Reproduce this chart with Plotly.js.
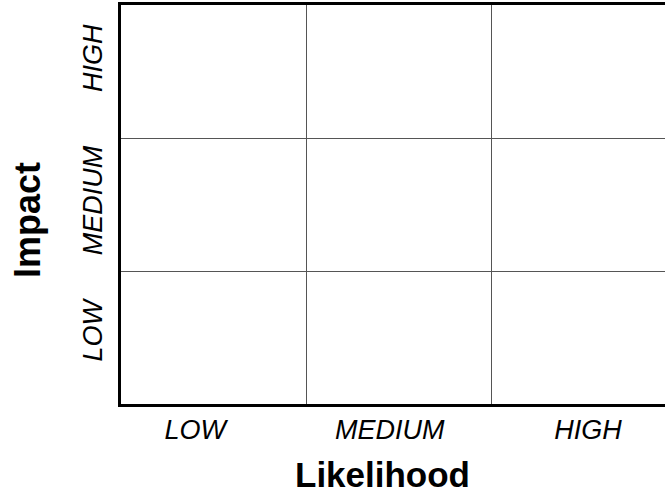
<!DOCTYPE html>
<html>
<head>
<meta charset="utf-8">
<script src="https://cdn.plot.ly/plotly-3.0.1.min.js"></script>
<style>
html,body{margin:0;padding:0;overflow:hidden;background:#fff;}
#chart{width:680px;height:495px;}
</style>
</head>
<body>
<div id="chart"></div>
<script>
// Category labels
const likelihoodLabels = ["LOW", "MEDIUM", "HIGH"];
const impactLabels = ["LOW", "MEDIUM", "HIGH"];
// Label positions along each axis (cell units)
const likelihoodTickPos = [0.40, 1.45, 2.52];
const impactTickPos = [0.52, 1.50, 2.57];
// Cell boundaries of the 3x3 matrix
const cellEdges = [0, 1, 2, 3];
const innerEdges = [1, 2];

const font = "Liberation Sans, Arial, sans-serif";

const trace = {
  type: "scatter",
  mode: "markers",
  x: [cellEdges[0], cellEdges[cellEdges.length - 1]],
  y: [cellEdges[0], cellEdges[cellEdges.length - 1]],
  marker: {opacity: 0},
  hoverinfo: "skip",
  showlegend: false
};

const layout = {
  width: 680,
  height: 495,
  margin: {l: 121, r: 3, t: 5, b: 91},
  paper_bgcolor: "#fff",
  plot_bgcolor: "#fff",
  showlegend: false,
  xaxis: {
    range: [cellEdges[0], cellEdges[cellEdges.length - 1]],
    tickmode: "array",
    tickvals: likelihoodTickPos,
    ticktext: likelihoodLabels,
    ticks: "",
    showgrid: false,
    zeroline: false,
    showline: true,
    mirror: true,
    linecolor: "#000",
    linewidth: 3,
    tickfont: {family: font, size: 27, color: "#000", style: "italic"},
    minor: {tickmode: "array", tickvals: innerEdges, showgrid: true, gridcolor: "#555", gridwidth: 1, ticks: ""},
    fixedrange: true
  },
  yaxis: {
    range: [cellEdges[0], cellEdges[cellEdges.length - 1]],
    tickmode: "array",
    tickvals: impactTickPos,
    ticktext: impactLabels,
    tickangle: -90,
    ticks: "",
    ticklabelstandoff: 5,
    showgrid: false,
    zeroline: false,
    showline: true,
    mirror: true,
    linecolor: "#000",
    linewidth: 3,
    tickfont: {family: font, size: 27, color: "#000", style: "italic"},
    minor: {tickmode: "array", tickvals: innerEdges, showgrid: true, gridcolor: "#555", gridwidth: 1, ticks: ""},
    fixedrange: true
  },
  annotations: [
    {text: "<b>Likelihood</b>", xref: "paper", yref: "paper", x: (382 - 121) / 556, y: (495 - 91 - 474) / 399,
     xanchor: "center", yanchor: "middle", showarrow: false, font: {family: font, size: 35, color: "#000"}},
    {text: "<b>Impact</b>", xref: "paper", yref: "paper", x: (27 - 121) / 556, y: (404 - 220) / 399,
     xanchor: "center", yanchor: "middle", textangle: -90, showarrow: false, font: {family: font, size: 36, color: "#000"}}
  ]
};

Plotly.newPlot("chart", [trace], layout, {staticPlot: true, displayModeBar: false});
</script>
</body>
</html>
